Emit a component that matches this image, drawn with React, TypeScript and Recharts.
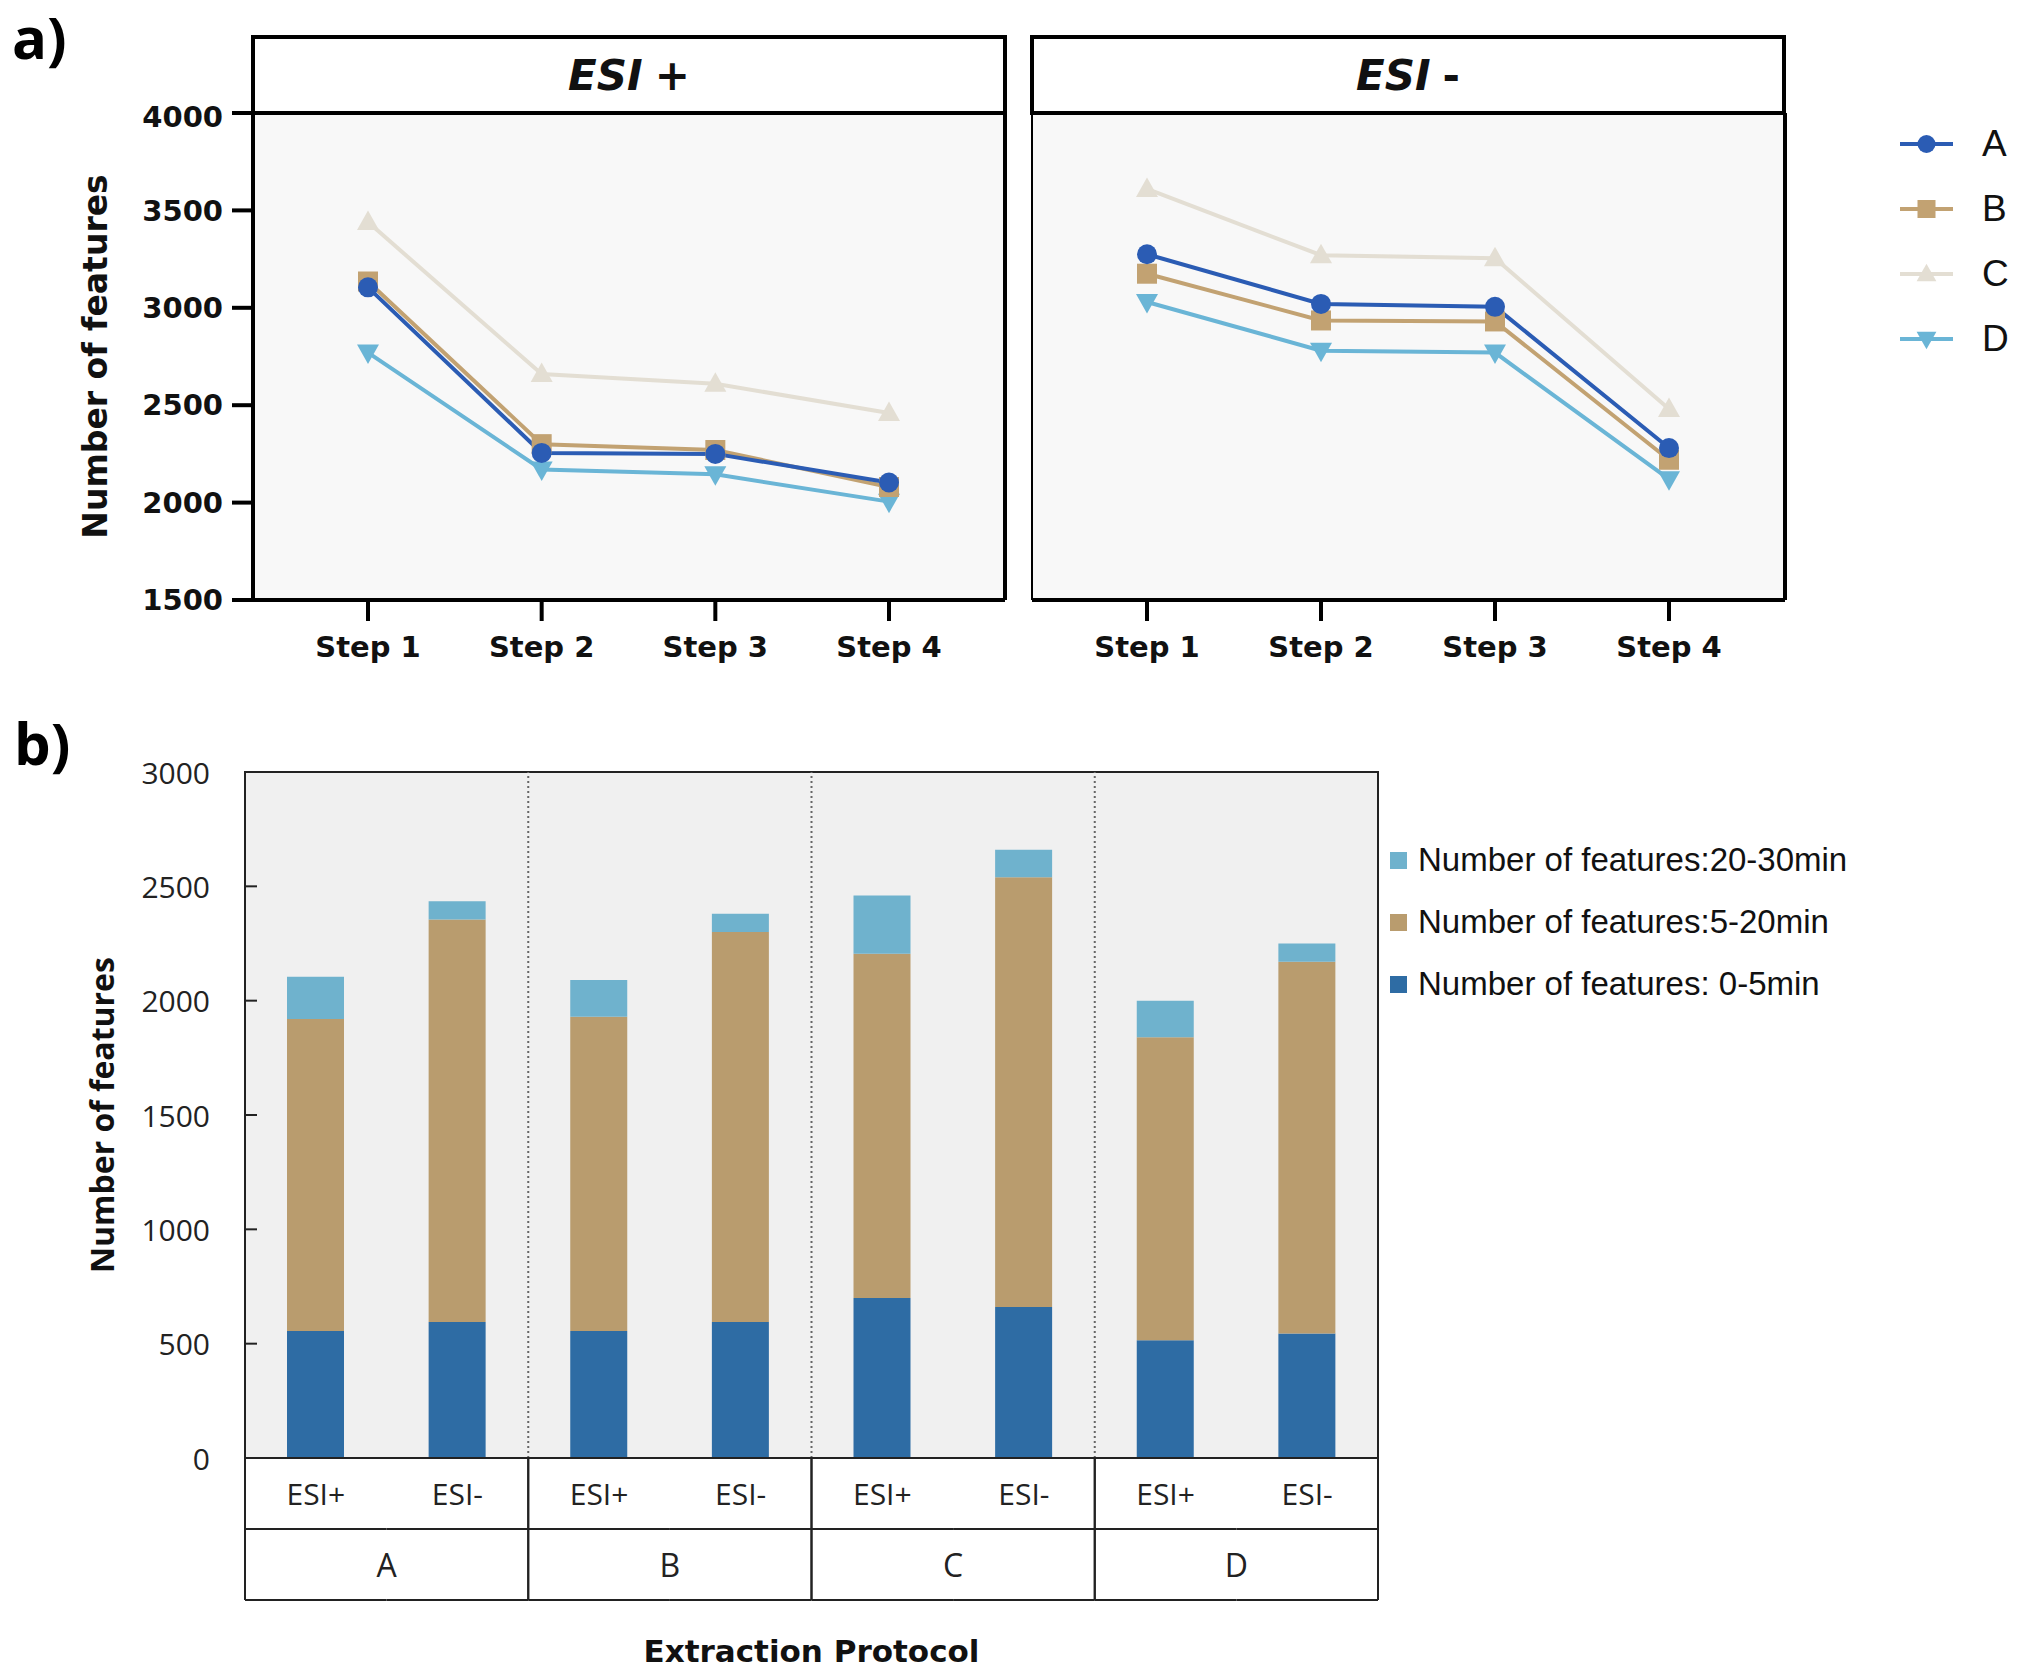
import React from 'react';
import {
  LineChart, Line, XAxis, YAxis, CartesianGrid, Legend, ReferenceArea, ReferenceLine,
  BarChart, Bar, Label,
} from 'recharts';

// ---- panel a: features per processing step ----
const steps = ['Step 1', 'Step 2', 'Step 3', 'Step 4'];
const posA = [3105, 2255, 2250, 2103];
const posB = [3135, 2300, 2270, 2080];
const posC = [3440, 2660, 2610, 2460];
const posD = [2770, 2170, 2145, 2005];
const negA = [3275, 3020, 3005, 2280];
const negB = [3175, 2935, 2930, 2220];
const negC = [3610, 3270, 3255, 2480];
const negD = [3030, 2780, 2770, 2120];
const stepTicks = [1500, 2000, 2500, 3000, 3500, 4000];

// ---- panel b: features by retention window ----
const protocols = ['A', 'B', 'C', 'D'];
const modes = ['ESI+', 'ESI-'];
const early = [555, 595, 555, 595, 700, 660, 515, 545];       // 0-5 min
const middle = [1365, 1760, 1375, 1705, 1505, 1880, 1325, 1625]; // 5-20 min
const late = [185, 80, 160, 80, 255, 120, 160, 80];           // 20-30 min
const barTicks = [0, 500, 1000, 1500, 2000, 2500, 3000];

const series = [
  { key: 'A', color: '#2b5cb4', shape: 'circle' },
  { key: 'B', color: '#c2a272', shape: 'square' },
  { key: 'C', color: '#e3ded3', shape: 'up' },
  { key: 'D', color: '#6ab5d6', shape: 'down' },
];

const barSeries = [
  { key: 'early', name: 'Number of features: 0-5min', color: '#2e6ca4' },
  { key: 'middle', name: 'Number of features:5-20min', color: '#b99c6e' },
  { key: 'late', name: 'Number of features:20-30min', color: '#6fb2cd' },
];

const posData = steps.map((s, i) => ({ step: s, A: posA[i], B: posB[i], C: posC[i], D: posD[i] }));
const negData = steps.map((s, i) => ({ step: s, A: negA[i], B: negB[i], C: negC[i], D: negD[i] }));

const barData = protocols.flatMap((p, pi) =>
  modes.map((m, mi) => {
    const i = pi * 2 + mi;
    return { id: `${p}|${m}`, early: early[i], middle: middle[i], late: late[i] };
  })
);

const boldFont = "'DejaVu Sans', sans-serif";
const PLOT_B_W = 1133;
const BAND = PLOT_B_W / barData.length;
const ROW = 71;

function Marker({ cx, cy, fill, shape, size = 20 }: any) {
  if (cx == null || cy == null) return null;
  const r = size / 2;
  if (shape === 'circle') return <circle cx={cx} cy={cy} r={r} fill={fill} />;
  if (shape === 'square') return <rect x={cx - r} y={cy - r} width={size} height={size} fill={fill} />;
  if (shape === 'up')
    return <polygon points={`${cx},${cy - r * 1.15} ${cx + r * 1.1},${cy + r * 0.8} ${cx - r * 1.1},${cy + r * 0.8}`} fill={fill} />;
  return <polygon points={`${cx},${cy + r * 1.15} ${cx + r * 1.1},${cy - r * 0.8} ${cx - r * 1.1},${cy - r * 0.8}`} fill={fill} />;
}

function StepLegend({ payload }: any) {
  const items = [...(payload || [])].sort((a: any, b: any) => String(a.value).localeCompare(String(b.value)));
  return (
    <div>
      {items.map((it: any) => {
        const s = series.find((x) => x.key === it.value) || series[0];
        return (
          <div key={it.value} style={{ display: 'flex', alignItems: 'center', height: 65 }}>
            <svg width={53} height={30}>
              <line x1={0} y1={15} x2={53} y2={15} stroke={s.color} strokeWidth={4} />
              <Marker cx={26.5} cy={15} fill={s.color} shape={s.shape} size={18} />
            </svg>
            <span style={{ marginLeft: 29, fontSize: 37, fontFamily: "'Liberation Sans', Arial", color: '#111' }}>
              {it.value}
            </span>
          </div>
        );
      })}
    </div>
  );
}

function StepPanel({ data, left, width, marginRight, yWidth, showTicks, legend }: any) {
  return (
    <div style={{ position: 'absolute', left, top: 100 }}>
      <LineChart width={width} height={600} data={data} margin={{ top: 13, right: marginRight, bottom: 0, left: 0 }}>
        <CartesianGrid fill="#f8f8f8" horizontal={false} vertical={false} />
        <XAxis
          dataKey="step"
          height={100}
          padding={{ left: 115, right: 116 }}
          axisLine={{ stroke: '#000', strokeWidth: 4 }}
          tickLine={{ stroke: '#000', strokeWidth: 4 }}
          tickSize={21}
          tickMargin={15}
          tick={{ fill: '#111', fontSize: 29, fontWeight: 'bold', fontFamily: boldFont }}
        />
        <YAxis
          width={yWidth}
          domain={[1500, 4000]}
          ticks={stepTicks}
          axisLine={{ stroke: '#000', strokeWidth: showTicks ? 4 : 2 }}
          tickLine={showTicks ? { stroke: '#000', strokeWidth: 4 } : false}
          tickSize={21}
          tickMargin={9}
          tick={showTicks ? { fill: '#111', fontSize: 29, fontWeight: 'bold', fontFamily: boldFont } : false}
        >
          {showTicks && (
            <Label
              value="Number of features"
              angle={-90}
              position="center"
              dx={-31}
              style={{ fill: '#111', fontSize: 33, fontWeight: 'bold', fontFamily: boldFont }}
            />
          )}
        </YAxis>
        {/* same scale on the right, only to draw the panel's right frame */}
        <YAxis
          yAxisId="edge"
          orientation="right"
          width={1}
          domain={[1500, 4000]}
          ticks={stepTicks}
          axisLine={{ stroke: '#000', strokeWidth: 4 }}
          tickLine={false}
          tick={false}
        />
        {legend && (
          <Legend
            layout="vertical"
            align="center"
            verticalAlign="middle"
            content={<StepLegend />}
            wrapperStyle={{ left: 880, top: 11, width: 123 }}
          />
        )}
        {[...series].reverse().map((s, i) => (
          <Line
            key={s.key}
            dataKey={s.key}
            yAxisId={i === 0 ? 'edge' : 0}
            stroke={s.color}
            strokeWidth={4}
            isAnimationActive={false}
            dot={(p: any) => <Marker key={`${s.key}-${p.index}`} cx={p.cx} cy={p.cy} fill={s.color} shape={s.shape} size={20} />}
            activeDot={false}
          />
        ))}
      </LineChart>
    </div>
  );
}

function Header({ left, text }: any) {
  return (
    <div
      style={{
        position: 'absolute', left, top: 35, width: 756, height: 80, boxSizing: 'border-box',
        border: '4px solid #000', background: '#fff', display: 'flex', alignItems: 'center',
        justifyContent: 'center', fontFamily: boldFont, fontWeight: 'bold', fontSize: 42, color: '#111',
      }}
    >
      <span style={{ fontStyle: 'italic' }}>ESI</span>
      <span style={{ marginLeft: 12 }}>{text}</span>
    </div>
  );
}

function TableTick({ x, y, payload, index }: any) {
  const [protocol, mode] = String(payload.value).split('|');
  const half = BAND / 2;
  const line = { stroke: '#222', strokeWidth: 2 };
  return (
    <g>
      <text x={x} y={y + ROW / 2} textAnchor="middle" dominantBaseline="central"
        style={{ fontSize: 30, fontFamily: "'Open Sans', sans-serif", fill: '#222' }}>
        {mode}
      </text>
      <line x1={x - half} y1={y + ROW} x2={x + half} y2={y + ROW} {...line} />
      <line x1={x - half} y1={y + 2 * ROW} x2={x + half} y2={y + 2 * ROW} {...line} />
      {index % 2 === 0 && <line x1={x - half} y1={y} x2={x - half} y2={y + 2 * ROW} {...line} />}
      {index % 2 === 1 && (
        <>
          <line x1={x + half} y1={y} x2={x + half} y2={y + 2 * ROW} {...line} />
          <text x={x - half} y={y + ROW * 1.5} textAnchor="middle" dominantBaseline="central"
            style={{ fontSize: 32, fontFamily: "'Open Sans', sans-serif", fill: '#222' }}>
            {protocol}
          </text>
        </>
      )}
    </g>
  );
}

function CountTick({ x, y, payload }: any) {
  return (
    <g>
      <text x={x} y={y} textAnchor="end" dominantBaseline="central"
        style={{ fontSize: 30, fontFamily: "'Open Sans', sans-serif", fill: '#222' }}>
        {payload.value}
      </text>
      <line x1={x + 35} y1={y} x2={x + 47} y2={y} stroke="#222" strokeWidth={2} />
    </g>
  );
}

function BarLegend({ payload }: any) {
  const order = barSeries.map((b) => b.name).reverse();
  const items = [...(payload || [])].sort((a: any, b: any) => order.indexOf(a.value) - order.indexOf(b.value));
  return (
    <div>
      {items.map((it: any) => (
        <div key={it.value} style={{ display: 'flex', alignItems: 'center', height: 62 }}>
          <div style={{ width: 17, height: 17, background: it.color }} />
          <span style={{ marginLeft: 11, fontSize: 33, fontFamily: "'Liberation Sans', Arial", color: '#111', whiteSpace: 'nowrap' }}>
            {it.value}
          </span>
        </div>
      ))}
    </div>
  );
}

export default function App() {
  return (
    <div style={{ position: 'absolute', left: 0, top: 0, width: 2023, height: 1674, background: '#fff' }}>
      <div style={{ position: 'absolute', left: 12, top: 2, fontFamily: "'Open Sans', sans-serif", fontWeight: 'bold', fontSize: 58, lineHeight: 1.2 }}>a)</div>
      <div style={{ position: 'absolute', left: 14, top: 708, fontFamily: "'Open Sans', sans-serif", fontWeight: 'bold', fontSize: 58, lineHeight: 1.2 }}>b)</div>

      <StepPanel data={posData} left={0} width={1030} marginRight={24} yWidth={253} showTicks legend={false} />
      <StepPanel data={negData} left={1020} width={1003} marginRight={237} yWidth={12} showTicks={false} legend />
      <Header left={251} text="+" />
      <Header left={1030} text="-" />

      <div style={{ position: 'absolute', left: 0, top: 740 }}>
        <BarChart width={2023} height={934} data={barData} margin={{ top: 32, right: 645, bottom: 0, left: 0 }}>
          <CartesianGrid fill="#f0f0f0" horizontal={false} vertical={false} />
          {protocols.slice(1).map((p) => (
            <ReferenceLine key={p} x={`${p}|ESI+`} position="start" stroke="#666" strokeWidth={2} strokeDasharray="2 3" />
          ))}
          <XAxis
            dataKey="id"
            height={216}
            axisLine={{ stroke: '#222', strokeWidth: 2 }}
            tickLine={false}
            tickSize={0}
            tickMargin={0}
            interval={0}
            tick={<TableTick />}
          >
            <Label
              value="Extraction Protocol"
              position="insideBottom"
              offset={12}
              style={{ fill: '#111', fontSize: 31, fontWeight: 'bold', fontFamily: boldFont }}
            />
          </XAxis>
          <YAxis
            width={245}
            domain={[0, 3000]}
            ticks={barTicks}
            axisLine={{ stroke: '#222', strokeWidth: 2 }}
            tickLine={false}
            tickSize={0}
            tickMargin={35}
            tick={<CountTick />}
          >
            <Label
              value="Number of features"
              angle={-90}
              position="center"
              dx={-20}
              style={{ fill: '#111', fontSize: 32, fontWeight: 'bold', fontFamily: "'Open Sans', sans-serif" }}
            />
          </YAxis>
          <ReferenceArea y1={0} y2={3000} fill="none" stroke="#222" strokeWidth={2} ifOverflow="visible" />
          <Legend
            layout="vertical"
            align="center"
            verticalAlign="middle"
            content={<BarLegend />}
            wrapperStyle={{ left: 1390, top: 89, width: 560 }}
          />
          {barSeries.map((b) => (
            <Bar key={b.key} dataKey={b.key} name={b.name} stackId="t" fill={b.color} barSize={57} isAnimationActive={false} />
          ))}
        </BarChart>
      </div>
    </div>
  );
}
